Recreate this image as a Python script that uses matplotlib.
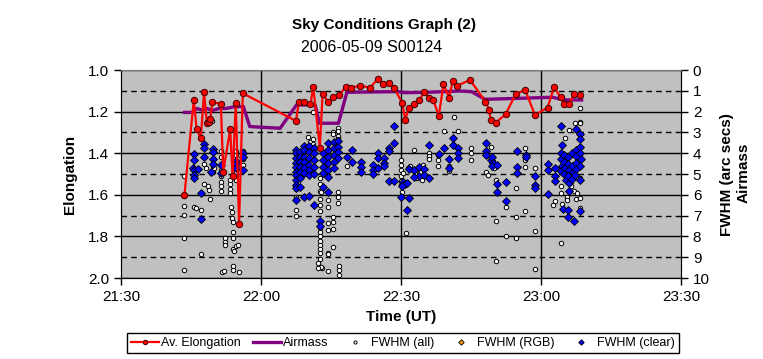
import matplotlib
matplotlib.use("Agg")
import matplotlib.pyplot as plt

plt.rcParams['font.family'] = ['Liberation Sans', 'DejaVu Sans']

# ================================================= Data ===============================================================
# all times are minutes after 21:30 UT

elong_t = [13.6, 15.6, 16.2, 17.1, 17.8, 18.4, 18.8, 19.1, 19.6, 21.4, 21.9, 23.4, 23.9, 24.6, 25.3, 26.1,
           37.5, 38.1, 39.2, 40.6, 41.2, 42.6, 43.2, 44.4, 45.5, 46.7, 48.2, 49.3, 51.2, 53.4, 55.0, 56.2,
           57.4, 58.5, 60.3, 60.9, 61.7, 62.8, 63.9, 65.0, 66.1, 66.9, 68.1, 69.1, 70.3, 71.1, 72.1, 74.8,
           78.1, 78.9, 79.2, 80.3, 82.4, 84.6, 86.6, 88.7, 91.4, 92.8, 94.2, 94.9, 96.0, 97.1, 98.4]
elong_v = [1.600, 1.144, 1.285, 1.329, 1.107, 1.256, 1.248, 1.237, 1.152, 1.165, 1.489, 1.285, 1.510, 1.160,
           1.742, 1.112,
           1.245, 1.155, 1.155, 1.165, 1.080, 1.373, 1.117, 1.152, 1.131, 1.122, 1.080, 1.085, 1.075, 1.085,
           1.043, 1.069, 1.061, 1.085, 1.160, 1.240, 1.181, 1.165, 1.144, 1.107, 1.133, 1.144, 1.220, 1.069,
           1.133, 1.051, 1.075, 1.048,
           1.152, 1.192, 1.240, 1.253, 1.213, 1.115, 1.096, 1.216, 1.181, 1.083, 1.131, 1.163, 1.163, 1.115,
           1.118]

airmass_t = [13.6, 15.2, 16.2, 17.5, 18.5, 19.5, 21.0, 22.5, 24.0, 26.2, 27.6, 30.0, 34.1, 37.6, 41.6, 42.5,
             46.6, 48.4, 59.4, 61.0, 66.0, 72.6, 75.1, 78.0, 87.0, 92.5, 94.8, 98.7]
airmass_v = [2.04, 2.04, 1.85, 1.93, 1.85, 1.95, 1.85, 1.85, 1.78, 1.75, 2.72, 2.75, 2.80, 1.68, 1.68, 2.56,
             2.56, 1.07, 1.04, 1.09, 1.07, 1.01, 1.04, 1.41, 1.35, 1.31, 1.44, 1.44]

fwhm_all_t = [13.5, 13.5, 13.5, 13.5, 13.5, 13.5, 15.6, 16.1, 17.1, 17.1, 17.8, 18.2, 17.8, 18.6, 18.9, 19.1,
              19.8, 19.8, 19.9, 21.4, 21.4, 21.4, 21.4, 21.4, 21.4, 21.4, 21.4, 22.2, 22.2, 22.2, 21.6, 22.0,
              23.3, 23.3, 23.3, 23.3, 23.6, 23.8, 23.8, 24.0, 24.0, 24.0, 24.0, 24.2, 24.6, 25.0, 24.0, 24.0,
              25.3, 26.1, 26.1, 26.1, 26.1, 24.7, 24.7, 24.7, 24.7, 24.7, 19.6, 18.9,
              37.5, 37.5, 37.6, 37.6, 37.6, 37.6, 41.2, 40.0, 40.4, 41.2, 41.2, 41.2, 46.6, 46.6, 46.6, 46.6,
              45.5, 45.5, 42.6, 42.6, 42.6, 42.6, 42.6, 42.6, 42.6, 42.6, 42.6, 42.6, 42.6, 42.6, 42.6, 42.6,
              42.2, 43.0, 44.4, 44.4, 44.4, 44.4, 45.5, 45.5, 45.5, 44.4, 44.4, 45.5, 42.8, 42.2, 44.4, 46.7,
              46.7, 46.7, 46.6, 46.6, 46.6, 48.4, 42.9,
              60.0, 60.0, 60.0, 59.9, 59.9, 60.1, 60.3, 61.0, 62.8, 62.0, 62.5, 63.0, 63.5, 64.0, 64.5, 65.0,
              65.9, 65.9, 65.9, 68.0, 68.0, 68.0, 69.2, 72.3, 71.3, 70.3, 70.3, 60.5, 61.5, 63.2, 64.8,
              75.0, 75.0, 75.0, 79.2, 78.2, 78.6, 80.4, 80.4, 82.4, 82.4, 84.6, 84.6, 84.6, 86.6, 86.6, 86.6,
              86.6, 88.7, 88.7, 88.7, 79.9, 80.3,
              92.5, 94.2, 94.2, 93.0, 94.3, 95.6, 95.6, 96.8, 97.0, 97.4, 98.4, 98.4, 98.4, 98.4, 98.4, 98.4,
              97.2, 96.0, 95.2, 94.6, 96.4, 97.8]
fwhm_all_v = [5.10, 6.04, 6.52, 6.97, 8.06, 9.60, 6.57, 6.65, 6.73, 8.86, 4.50, 4.70, 5.50, 5.60, 5.77, 6.20,
              4.60, 4.90, 4.73, 3.90, 4.20, 4.50, 4.80, 5.10, 5.40, 5.60, 5.80, 8.10, 8.25, 8.40, 9.70, 9.65,
              5.30, 5.50, 5.70, 5.90, 6.60, 6.85, 7.10, 7.30, 7.80, 8.06, 8.60, 8.70, 8.45, 8.40, 9.40, 9.60,
              9.70, 3.90, 4.10, 4.30, 4.55, 3.90, 4.10, 4.90, 5.10, 5.30, 2.45, 2.35,
              6.73, 7.02, 4.47, 4.80, 5.70, 6.09, 2.00, 3.20, 3.45, 3.30, 3.55, 3.70, 2.80, 2.95, 3.15, 3.30,
              3.00, 3.10, 5.20, 5.50, 5.80, 6.20, 6.50, 6.80, 7.60, 7.80, 8.00, 8.20, 8.40, 8.60, 8.80, 9.10,
              9.30, 9.50, 6.25, 6.57, 7.37, 7.69, 7.05, 7.30, 7.65, 8.80, 8.85, 8.50, 9.46, 9.50, 9.66, 9.40,
              9.60, 9.86, 5.85, 6.10, 6.40, 4.60, 5.85,
              4.33, 4.55, 4.80, 5.10, 5.35, 5.55, 5.85, 7.82, 3.85, 4.60, 4.80, 5.00, 5.20, 4.90, 5.30, 5.10,
              4.00, 4.15, 4.30, 4.10, 4.35, 4.60, 2.92, 2.92, 2.27, 4.60, 4.85, 4.95, 4.70, 4.75, 4.55,
              3.73, 4.00, 4.33, 3.69, 4.89, 5.05, 7.26, 9.17, 6.57, 7.98, 5.66, 7.05, 8.06, 3.73, 4.33, 4.65,
              6.76, 4.70, 7.72, 9.57, 4.70, 5.30,
              6.49, 5.60, 5.90, 6.30, 8.30, 6.10, 6.25, 5.00, 5.80, 6.20, 6.17, 6.65, 2.50, 2.56, 1.81, 5.20,
              2.56, 2.88, 3.28, 6.45, 5.60, 5.90]

# no RGB frames this night
fwhm_rgb_t = []
fwhm_rgb_v = []

fwhm_clear_t = [15.6, 15.6, 15.5, 15.6, 15.6, 15.6, 16.4, 17.8, 17.8, 17.8, 17.2, 17.2, 19.2, 19.8, 19.8,
                19.8, 19.8, 21.4, 21.4, 24.7, 24.7, 24.7, 26.1, 26.1, 26.2,
                37.6, 37.6, 37.6, 37.6, 37.6, 37.6, 37.6, 37.6, 37.6, 37.6, 37.6,
                38.4, 38.4, 38.4, 38.4, 38.4, 38.4, 38.4,
                39.3, 39.3, 39.3, 39.3, 39.3, 39.3, 39.3,
                40.3, 40.3, 40.3, 40.3, 40.3, 40.3, 40.3,
                41.4, 41.4, 41.4, 41.4, 41.4, 41.4,
                42.6, 42.6,
                43.3, 43.3, 43.3, 43.3, 43.3,
                44.4, 44.4, 44.4, 44.4, 44.4, 44.4, 44.4,
                45.7, 45.7, 45.7, 45.7, 45.7,
                46.6, 46.6, 46.6, 46.6,
                48.4, 49.4, 49.4,
                51.4, 51.4, 51.4, 54.1, 54.1, 54.1, 55.1, 55.1, 55.1, 56.4, 56.4, 56.4, 57.5, 57.5, 58.6,
                58.6, 57.5, 58.6, 60.1, 61.8, 61.2, 60.4, 60.8, 60.2, 61.2, 61.8, 62.8, 63.9, 64.9, 63.9,
                64.9, 66.1, 62.8, 66.1, 68.2, 69.2, 70.3, 70.3, 71.2, 71.2, 72.3, 72.3, 72.3,
                78.3, 78.3, 78.3, 79.2, 79.6, 79.8, 79.4, 80.5, 80.5, 80.5, 82.6, 82.6, 84.8, 84.8, 84.8,
                86.7, 86.7, 88.7, 88.7, 88.7,
                91.6, 91.6, 91.6, 92.9, 92.9, 92.9, 94.3, 94.4,
                94.3, 94.3, 94.5, 94.3, 95.0, 95.0, 95.2, 95.0, 95.3, 95.8, 95.8, 96.0, 95.8, 95.9, 95.9,
                96.6, 96.6, 96.8, 96.6, 97.4, 97.4, 97.4, 97.5, 97.3, 98.3, 98.3, 98.5, 98.3, 98.4, 98.3,
                97.6, 98.3, 94.8, 95.8, 95.8, 97.0, 98.4]
fwhm_clear_v = [4.05, 4.33, 4.70, 4.80, 5.05, 5.18, 4.75, 3.57, 3.73, 4.17, 5.90, 7.18, 4.89, 3.80, 3.93,
                4.30, 4.50, 4.57, 4.97, 4.38, 4.53, 4.70, 4.81, 4.00, 4.20,
                3.85, 4.00, 4.25, 4.49, 4.65, 4.89, 5.05, 5.29, 5.53, 5.69, 6.25,
                3.93, 4.17, 4.41, 4.65, 4.89, 5.21, 5.61,
                3.64, 3.85, 4.17, 4.41, 4.73, 4.97, 6.09,
                3.64, 3.93, 4.25, 4.57, 4.81, 5.05, 6.04,
                3.77, 4.00, 4.33, 4.65, 5.01, 6.49,
                7.26, 7.48,
                4.00, 4.33, 4.65, 4.97, 5.61,
                3.53, 3.85, 4.17, 4.49, 4.81, 5.13, 5.85,
                3.45, 3.77, 4.09, 4.41, 4.73,
                3.41, 3.69, 3.93, 4.25,
                4.17, 3.85, 4.41,
                4.41, 4.65, 4.89, 4.55, 4.81, 5.00, 4.00, 4.25, 4.70, 4.22, 4.45, 4.60, 3.76, 3.88, 3.53,
                2.69, 5.34, 5.34, 6.12, 6.17, 6.73, 5.37, 5.50, 5.60, 5.45, 4.75, 4.80, 4.65, 4.75, 5.10,
                5.05, 5.20, 5.15, 3.60, 4.04, 3.77, 4.29, 4.73, 3.29, 3.61, 3.77, 4.00, 4.25,
                3.50, 3.90, 4.10, 4.35, 4.20, 4.45, 4.60, 4.55, 5.48, 5.88, 5.37, 6.28, 3.88, 4.65, 4.97,
                4.09, 4.20, 5.10, 5.53, 5.69,
                4.53, 4.81, 5.96, 4.70, 5.10, 5.35, 2.69, 3.61,
                4.00, 4.30, 4.60, 4.85, 4.10, 4.40, 4.70, 5.00, 5.30, 4.20, 4.50, 4.80, 5.10, 5.45, 5.80,
                4.00, 4.60, 4.90, 5.25, 3.85, 4.15, 4.45, 4.75, 5.05, 3.70, 4.00, 4.30, 4.60, 3.08, 3.33,
                2.85, 5.30, 6.70, 6.75, 7.05, 7.25, 6.76]

time_ticks = [0, 30, 60, 90, 120]
time_labels = ['21:30', '22:00', '22:30', '23:00', '23:30']
elong_ticks = [1.0, 1.2, 1.4, 1.6, 1.8, 2.0]
right_ticks = list(range(0, 11))

# ================================================= Plot ===============================================================
fig = plt.figure(figsize=(7.63, 3.59), dpi=100)
ax = fig.add_axes([121 / 763, 81 / 359, 560 / 763, 208 / 359])
ax2 = ax.twinx()

# elongation axis drawn on top, grey plot area lives on the right-hand axes
ax.set_zorder(ax2.get_zorder() + 1)
ax.patch.set_visible(False)
ax2.patch.set_visible(True)
ax2.patch.set_facecolor('#C0C0C0')

ax.set_xlim(time_ticks[0], time_ticks[-1])
ax.set_ylim(2.0, 1.0)
ax2.set_ylim(10, 0)

ax.set_xticks(time_ticks)
ax.set_xticklabels(time_labels)
ax.set_yticks(elong_ticks)
ax.set_yticklabels([f"{v:.1f}" for v in elong_ticks])
ax2.set_yticks(right_ticks)

ax.tick_params(axis='both', direction='out', length=5, width=1, labelsize=11, colors='black')
ax2.tick_params(axis='y', direction='out', length=5, width=1, labelsize=11, colors='black')

# grid: solid on even right-axis values, dashed on odd ones
ax2.set_axisbelow(True)
ax2.yaxis.grid(True, color='black', linewidth=1)
for tick, val in zip(ax2.yaxis.get_major_ticks(), right_ticks):
    if val % 2:
        tick.gridline.set_linestyle((0, (4, 3)))
for t in time_ticks[1:-1]:
    ax2.axvline(t, color='black', linewidth=1, zorder=0.5)

for a in (ax, ax2):
    a.spines['top'].set_color('#808080')
    a.spines['left'].set_color('black')
    a.spines['right'].set_color('black')
    a.spines['bottom'].set_color('black')

# FWHM + airmass on the right-hand scale
ax2.plot(fwhm_all_t, fwhm_all_v, linestyle='none', marker='o', markersize=3.2,
         markerfacecolor='white', markeredgecolor='black', markeredgewidth=0.7, label='FWHM (all)', zorder=3)
ax2.plot(fwhm_rgb_t, fwhm_rgb_v, linestyle='none', marker='D', markersize=4.0,
         markerfacecolor='#FF9900', markeredgecolor='black', markeredgewidth=0.6, label='FWHM (RGB)', zorder=3)
ax2.plot(fwhm_clear_t, fwhm_clear_v, linestyle='none', marker='D', markersize=4.0,
         markerfacecolor='#0000FF', markeredgecolor='black', markeredgewidth=0.6, label='FWHM (clear)', zorder=4)
ax2.plot(airmass_t, airmass_v, color='#800080', linewidth=2.4, label='Airmass', zorder=5)

# elongation on the left-hand scale
ax.plot(elong_t, elong_v, color='#FF0000', linewidth=1.6, marker='o', markersize=4.6,
        markerfacecolor='#FF0000', markeredgecolor='#400000', markeredgewidth=0.7, label='Av. Elongation')

# titles and axis labels
fig.text(384 / 763, 1 - 25 / 359, 'Sky Conditions Graph (2)', ha='center', va='center',
         fontsize=11, fontweight='bold')
fig.text(372 / 763, 1 - 47 / 359, '2006-05-09 S00124', ha='center', va='center', fontsize=11.5)
fig.text(70 / 763, 1 - 174 / 359, 'Elongation', ha='center', va='center', rotation=90,
         fontsize=11, fontweight='bold')
fig.text(401 / 763, 1 - 317 / 359, 'Time (UT)', ha='center', va='center', fontsize=11, fontweight='bold')
fig.text(727 / 763, 1 - 175 / 359, 'FWHM (arc secs)', ha='center', va='center', rotation=90,
         fontsize=11, fontweight='bold')
fig.text(744 / 763, 1 - 173 / 359, 'Airmass', ha='center', va='center', rotation=90,
         fontsize=11, fontweight='bold')

# legend, order as in the original
h1, l1 = ax.get_legend_handles_labels()
h2, l2 = ax2.get_legend_handles_labels()
handles = {**dict(zip(l1, h1)), **dict(zip(l2, h2))}
order = ['Av. Elongation', 'Airmass', 'FWHM (all)', 'FWHM (RGB)', 'FWHM (clear)']
leg = fig.legend([handles[k] for k in order], order, loc='center', bbox_to_anchor=(403 / 763, 1 - 343 / 359),
                 ncol=5, fontsize=9, frameon=True, fancybox=False, framealpha=1, edgecolor='black',
                 markerscale=0.7, handlelength=2.2, handletextpad=0.2, columnspacing=1.0, borderpad=0.3)
leg.get_frame().set_linewidth(1)

plt.savefig('out.png', dpi=100)
